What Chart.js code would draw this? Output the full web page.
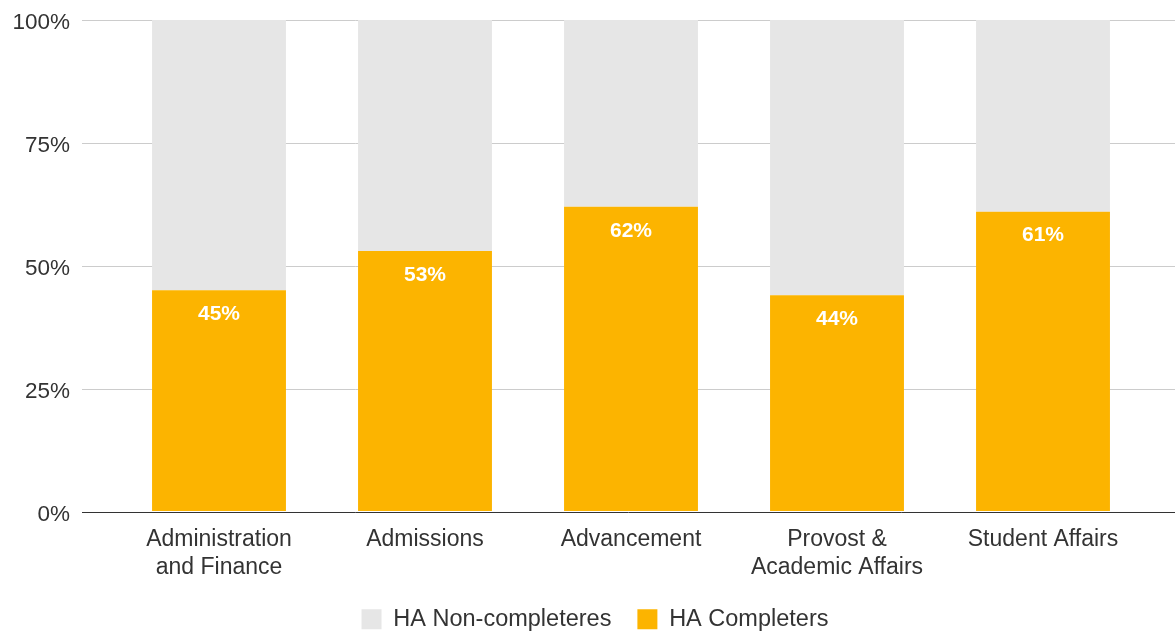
<!DOCTYPE html>
<html lang="en">
<head>
<meta charset="utf-8">
<script src="https://cdn.jsdelivr.net/npm/chart.js"></script>
<style>
  body { margin: 0; background: #fff; }
</style>
</head>
<body>
<canvas id="haChart" width="1175" height="631"></canvas>
<script>
// data
const departments = [['Administration', 'and Finance'], 'Admissions', 'Advancement', ['Provost &', 'Academic Affairs'], 'Student Affairs'];
const completers = [45, 53, 62, 44, 61];
const nonCompleters = [55, 47, 38, 56, 39];
const yTicks = [0, 25, 50, 75, 100];

const FONT = '"Liberation Sans", Arial, sans-serif';

// gridlines run wider than the category area, so draw them by hand from the y scale
const gridPlugin = {
  id: 'wideGrid',
  afterLayout(chart) {
    // legend in the original sits a bit right of the canvas centre
    chart.legend.left += 22;
    chart.legend.right += 22;
  },
  beforeDatasetsDraw(chart) {
    const { ctx } = chart;
    const y = chart.scales.y;
    ctx.save();
    ctx.lineWidth = 1;
    ctx.strokeStyle = '#cccccc';
    yTicks.forEach(v => {
      if (v === 0) return;
      const py = Math.round(y.getPixelForValue(v)) + 0.5;
      ctx.beginPath();
      ctx.moveTo(82, py);
      ctx.lineTo(chart.width, py);
      ctx.stroke();
    });
    ctx.restore();
  },
  afterDatasetsDraw(chart) {
    const { ctx } = chart;
    const y = chart.scales.y;
    ctx.save();
    // zero line
    const py = Math.round(y.getPixelForValue(0)) + 0.5;
    ctx.strokeStyle = '#333333';
    ctx.lineWidth = 1;
    ctx.beginPath();
    ctx.moveTo(82, py);
    ctx.lineTo(chart.width, py);
    ctx.stroke();

    // value labels inside the orange bars
    const meta = chart.getDatasetMeta(0);
    ctx.fillStyle = '#ffffff';
    ctx.font = 'bold 21px ' + FONT;
    ctx.textAlign = 'center';
    ctx.textBaseline = 'middle';
    meta.data.forEach((bar, i) => {
      ctx.fillText(completers[i] + '%', bar.x, bar.y + 24);
    });
    ctx.restore();
  }
};

new Chart(document.getElementById('haChart'), {
  type: 'bar',
  data: {
    labels: departments,
    datasets: [
      {
        label: 'HA Completers',
        data: completers,
        backgroundColor: '#fcb400',
        borderWidth: 0
      },
      {
        label: 'HA Non-completeres',
        data: nonCompleters,
        backgroundColor: '#e6e6e6',
        borderWidth: 0
      }
    ]
  },
  options: {
    responsive: false,
    animation: false,
    devicePixelRatio: 1,
    layout: { padding: { top: 20, right: 29, bottom: -10, left: 0 } },
    datasets: {
      bar: { categoryPercentage: 1.0, barPercentage: 0.65 }
    },
    scales: {
      x: {
        stacked: true,
        grid: { display: false, drawTicks: false },
        border: { display: false },
        ticks: {
          color: '#333333',
          font: { family: FONT, size: 23, lineHeight: 1.22 },
          padding: 14,
          maxRotation: 0,
          autoSkip: false
        },
        afterFit(scale) { scale.height = 70; }
      },
      y: {
        stacked: true,
        min: 0,
        max: 100,
        // invisible tick marks just push the labels left of the gridline start
        grid: { display: true, drawOnChartArea: false, drawTicks: true, tickLength: 40, tickColor: 'rgba(0,0,0,0)' },
        border: { display: false },
        ticks: {
          stepSize: 25,
          color: '#333333',
          font: { family: FONT, size: 22.5 },
          padding: 6,
          labelOffset: 3,
          callback: v => v + '%'
        },
        afterFit(scale) { scale.width = 116; }
      }
    },
    plugins: {
      legend: {
        position: 'bottom',
        reverse: true,
        labels: {
          boxWidth: 20,
          boxHeight: 20,
          padding: 26,
          color: '#333333',
          font: { family: FONT, size: 23.5 }
        }
      },
      tooltip: { enabled: false }
    }
  },
  plugins: [gridPlugin]
});
</script>
</body>
</html>
